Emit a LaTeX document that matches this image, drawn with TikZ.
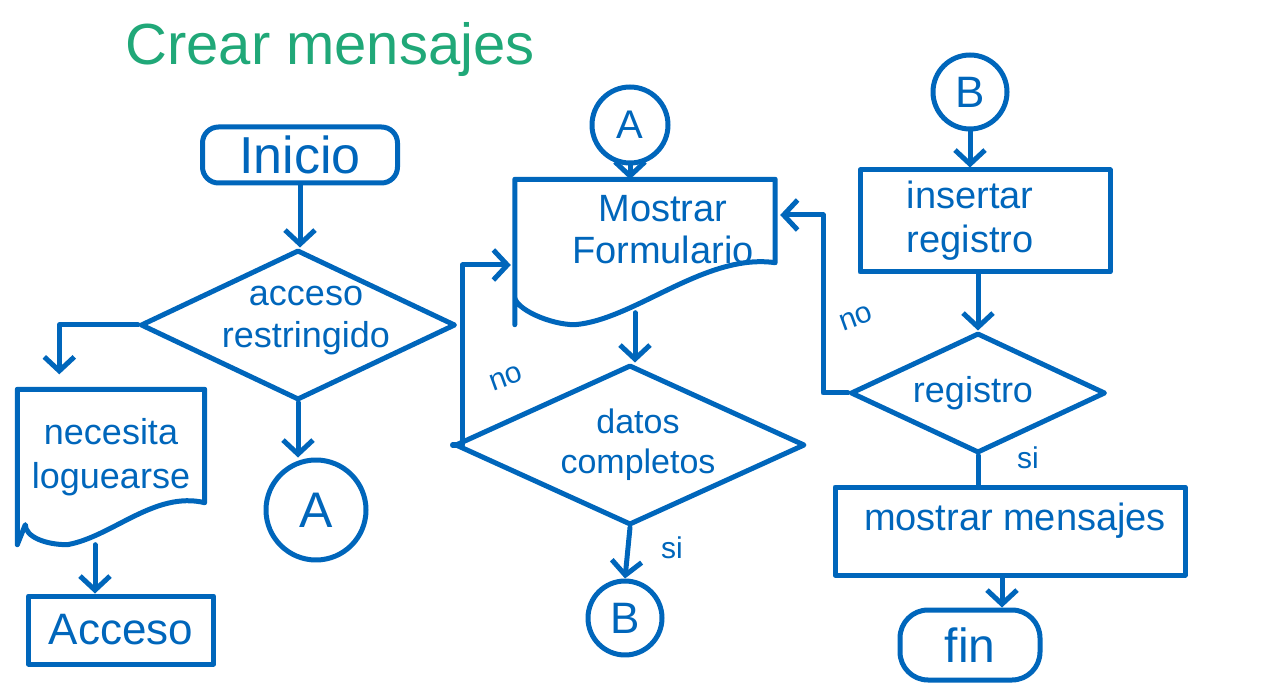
\documentclass[tikz,border=0pt]{standalone}
\usepackage{fontspec}
\setmainfont{Liberation Sans}
\usetikzlibrary{arrows.meta,shapes.geometric,calc}
\definecolor{ink}{RGB}{0,102,187}
\definecolor{titlegreen}{RGB}{32,168,120}
\tikzset{
  line/.style={draw=ink, line width=5pt, line cap=round, line join=round},
  arr/.style={line, -{Straight Barb[length=14pt,width=30pt,line width=5pt]}},
  txt/.style={text=ink, align=center, inner sep=0pt},
  term/.style={line, rounded corners=16pt, inner sep=0pt},
  procbox/.style={line, inner sep=0pt},
  dia/.style={line, diamond, inner sep=0pt},
  blank/.style={inner sep=0pt},
  conn/.style={line, circle, inner sep=0pt, text=ink},
  lbl/.style={text=ink, inner sep=0pt, font=\fontsize{30}{32}\selectfont}
}
\begin{document}
\begin{tikzpicture}[x=1pt,y=-1pt]
\useasboundingbox (0,0) rectangle (1280,692);

% title
\node[text=titlegreen, inner sep=0pt, font=\fontsize{58}{62}\selectfont] (title) at (330,50) {Crear mensajes};

% ---------- column 1 ----------
\node[term, minimum width=195pt, minimum height=56pt] (ini) at (300,155) {};
\node[txt, font=\fontsize{52}{56}\selectfont] (init) at (ini.center) {Inicio};

\node[dia, minimum width=315pt, minimum height=150pt] (d1) at (298,325) {};
\node[txt, font=\fontsize{36}{42}\selectfont] (d1t) at ($(d1.center)+(8,-4)$) {acceso\\restringido};

\node[blank, minimum width=187pt, minimum height=155pt] (doc1) at (111,467) {};
\draw[line] (doc1.south west) -- (doc1.north west) -- (doc1.north east)
  -- ($(doc1.south east)+(0,-42)$)
  .. controls +(-50,-12) and +(45,-8) .. ($(doc1.south west)+(50,0)$)
  .. controls +(-22,0) and +(0,12) .. ($(doc1.south west)+(8,-20)$) -- cycle;
\node[txt, font=\fontsize{36}{44}\selectfont] (doc1t) at ($(doc1.center)+(0,-10)$) {necesita\\loguearse};

\node[procbox, minimum width=185pt, minimum height=68pt] (acc) at (121,630) {};
\node[txt, font=\fontsize{44}{48}\selectfont] (acct) at (acc.center) {Acceso};

\node[conn, minimum size=100pt, font=\fontsize{50}{52}\selectfont] (A1) at (316,510) {A};

\draw[arr] (ini.south) -- (ini.south |- d1.north);
\draw[arr] (d1.west) -| ($(doc1.north west)+(42,-15)$);
\coordinate (c1) at ($(acc.north)+(-26,0)$);
\draw[arr] (c1 |- doc1.south) -- (c1);
\draw[arr] (d1.south) -- (d1.south |- A1.north);

% ---------- column 2 ----------
\node[conn, minimum size=76pt, font=\fontsize{40}{42}\selectfont] (A2) at (630,125) {A};

\node[blank, minimum width=260pt, minimum height=145pt] (doc2) at (645,252) {};
\draw[line] (doc2.south west) -- (doc2.north west) -- (doc2.north east)
  -- ($(doc2.south east)+(0,-62)$)
  .. controls +(-70,-10) and +(60,-5) .. ($(doc2.south west)+(60,0)$)
  .. controls +(-25,0) and +(0,12) .. ($(doc2.south west)+(0,-28)$) -- cycle;
\node[txt, font=\fontsize{38}{42}\selectfont] (doc2t) at ($(doc2.center)+(18,-22)$) {Mostrar\\Formulario};

\node[dia, minimum width=350pt, minimum height=160pt] (d2) at (630,445) {};
\node[txt, font=\fontsize{34}{40}\selectfont] (d2t) at ($(d2.center)+(8,0)$) {datos\\completos};

\node[conn, minimum size=74pt, font=\fontsize{44}{46}\selectfont] (B1) at (625,618) {B};

\draw[arr] (A2.south) -- (A2.south |- doc2.north);
\draw[arr] ($(doc2.south)+(-10,-12)$) -- ($(d2.north)+(5,0)$);
\draw[arr] (d2.west) -- ++(10,0) |- ($(doc2.west)+(-4,13)$);
\draw[arr] (d2.south) -- (B1.north);
\node[lbl, rotate=20] (no1) at (506,378) {no};
\node[lbl] (si1) at (672,548) {si};

% ---------- column 3 ----------
\node[conn, minimum size=74pt, font=\fontsize{44}{46}\selectfont] (B2) at (970,92) {B};

\node[procbox, minimum width=250pt, minimum height=102pt] (ins) at (985,221) {};
\node[txt, font=\fontsize{38}{44}\selectfont] (inst) at ($(ins.center)+(-15,0)$) {insertar\\registro};

\node[dia, minimum width=255pt, minimum height=120pt] (d3) at (978,393) {};
\node[txt, font=\fontsize{36}{40}\selectfont] (d3t) at ($(d3.center)+(-5,0)$) {registro};

\node[procbox, minimum width=350pt, minimum height=88pt] (msg) at (1010,531) {};
\node[txt, font=\fontsize{38}{42}\selectfont] (msgt) at ($(msg.center)+(5,-10)$) {mostrar mensajes};

\node[term, minimum width=140pt, minimum height=70pt, rounded corners=28pt] (fin) at (970,645) {};
\node[txt, font=\fontsize{48}{50}\selectfont] (fint) at (fin.center) {fin};

\draw[arr] (B2.south) -- (B2.south |- ins.north);
\draw[arr] (d3.north |- ins.south) -- (d3.north);
\draw[arr] (d3.west) -- ++(-25,0) |- ($(doc2.east)+(5,-37)$);
\draw[line] (d3.south) -- (d3.south |- msg.north);
\coordinate (f1) at ($(fin.north)+(32,0)$);
\draw[arr] (f1 |- msg.south) -- (f1);
\node[lbl, rotate=20] (no2) at (856,318) {no};
\node[lbl] (si2) at (1028,458) {si};
\end{tikzpicture}
\end{document}
